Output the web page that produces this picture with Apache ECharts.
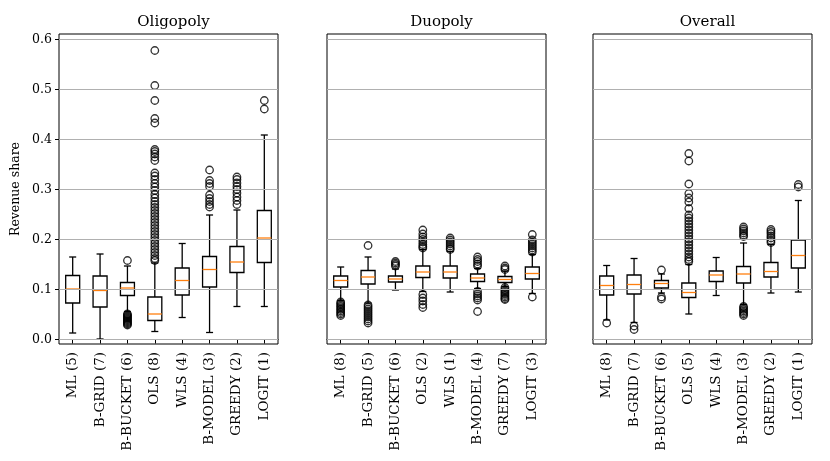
<!DOCTYPE html>
<html>
<head>
<meta charset="utf-8">
<script src="https://cdn.jsdelivr.net/npm/echarts@6/dist/echarts.min.js"></script>
<style>
html,body{margin:0;padding:0;background:#fff;}
#chart{width:830px;height:461px;}
</style>
</head>
<body>
<div id="chart"></div>
<script>
// ---------- data ----------
const panelTitles = ['Oligopoly', 'Duopoly', 'Overall'];
const yTicks = [0.0, 0.1, 0.2, 0.3, 0.4, 0.5, 0.6];

const oligLabels = ['ML (5)','B-GRID (7)','B-BUCKET (6)','OLS (8)','WLS (4)','B-MODEL (3)','GREEDY (2)','LOGIT (1)'];
const duoLabels  = ['ML (8)','B-GRID (5)','B-BUCKET (6)','OLS (2)','WLS (1)','B-MODEL (4)','GREEDY (7)','LOGIT (3)'];
const allLabels  = ['ML (8)','B-GRID (7)','B-BUCKET (6)','OLS (5)','WLS (4)','B-MODEL (3)','GREEDY (2)','LOGIT (1)'];

// [lower whisker, Q1, median, Q3, upper whisker]
const oligBoxes = [
  [0.013,0.073,0.101,0.128,0.165],
  [0.001,0.065,0.098,0.127,0.171],
  [0.056,0.088,0.103,0.114,0.147],
  [0.016,0.038,0.051,0.085,0.153],
  [0.044,0.089,0.118,0.143,0.192],
  [0.014,0.105,0.140,0.166,0.249],
  [0.066,0.134,0.155,0.186,0.259],
  [0.066,0.154,0.203,0.258,0.409]
];
const duoBoxes = [
  [0.078,0.105,0.118,0.127,0.145],
  [0.073,0.111,0.125,0.138,0.165],
  [0.099,0.115,0.121,0.127,0.141],
  [0.096,0.124,0.135,0.147,0.180],
  [0.095,0.123,0.135,0.147,0.176],
  [0.102,0.116,0.123,0.131,0.142],
  [0.106,0.114,0.120,0.126,0.137],
  [0.092,0.121,0.132,0.145,0.170]
];
const allBoxes = [
  [0.039,0.089,0.108,0.127,0.148],
  [0.034,0.091,0.110,0.129,0.162],
  [0.093,0.103,0.112,0.118,0.131],
  [0.051,0.084,0.094,0.113,0.150],
  [0.088,0.116,0.129,0.137,0.164],
  [0.070,0.113,0.131,0.146,0.193],
  [0.093,0.125,0.136,0.154,0.190],
  [0.095,0.143,0.168,0.199,0.278]
];

const oligOutliers = [
  [],
  [],
  [0.158,0.051,0.049,0.047,0.045,0.043,0.041,0.039,0.037,0.035,0.033,0.031,0.029],
  [0.578,0.508,0.478,0.442,0.433,0.380,0.376,0.371,0.365,0.358,0.333,0.327,0.320,0.312,0.305,0.298,0.290,0.283,0.276,0.270,0.264,0.258,0.252,0.246,0.240,0.234,0.228,0.222,0.216,0.210,0.204,0.198,0.192,0.186,0.180,0.174,0.168,0.162,0.158],
  [],
  [0.339,0.318,0.312,0.306,0.289,0.282,0.276,0.270,0.265],
  [0.325,0.320,0.313,0.306,0.300,0.293,0.285,0.278,0.270],
  [0.478,0.461]
];
const duoOutliers = [
  [0.075,0.072,0.069,0.066,0.063,0.060,0.057,0.054,0.051,0.048],
  [0.188,0.069,0.065,0.061,0.057,0.053,0.049,0.045,0.041,0.037,0.033],
  [0.156,0.153,0.150,0.147],
  [0.219,0.211,0.205,0.200,0.195,0.190,0.186,0.183,0.090,0.083,0.077,0.070,0.064],
  [0.203,0.199,0.195,0.191,0.187,0.183,0.180],
  [0.165,0.160,0.156,0.151,0.147,0.096,0.091,0.087,0.083,0.079,0.056],
  [0.147,0.143,0.140,0.104,0.100,0.097,0.094,0.091,0.088,0.085,0.082,0.080],
  [0.210,0.199,0.195,0.191,0.187,0.183,0.179,0.175,0.085]
];
const allOutliers = [
  [0.033],
  [0.027,0.020],
  [0.139,0.085,0.081],
  [0.372,0.357,0.311,0.292,0.283,0.275,0.262,0.249,0.243,0.237,0.231,0.225,0.219,0.213,0.207,0.201,0.195,0.189,0.183,0.177,0.171,0.165,0.160,0.156],
  [],
  [0.225,0.221,0.217,0.213,0.209,0.206,0.066,0.063,0.060,0.057,0.054,0.051,0.048],
  [0.220,0.216,0.212,0.207,0.203,0.198,0.194],
  [0.310,0.305]
];

// ---------- chart ----------
const panels = [
  {labels: oligLabels, boxes: oligBoxes, outliers: oligOutliers},
  {labels: duoLabels,  boxes: duoBoxes,  outliers: duoOutliers},
  {labels: allLabels,  boxes: allBoxes,  outliers: allOutliers}
];
const FONT = 'DejaVu Serif';
const gridLefts = [59, 327, 593];
const gridW = 219, gridTop = 34, gridH = 310;
const LW = 1.3;

function renderBox(params, api) {
  const i = api.value(0);
  const x = api.coord([i, api.value(3)])[0];
  const y = v => api.coord([i, v])[1];
  const yMin = y(api.value(1)), yQ1 = y(api.value(2)), yMed = y(api.value(3)),
        yQ3 = y(api.value(4)), yMax = y(api.value(5));
  const hb = 7, hc = 3.5;
  const st = {stroke: '#000', lineWidth: LW, fill: null};
  return {
    type: 'group',
    children: [
      {type: 'line', shape: {x1: x, y1: yQ1, x2: x, y2: yMin}, style: st},
      {type: 'line', shape: {x1: x, y1: yQ3, x2: x, y2: yMax}, style: st},
      {type: 'line', shape: {x1: x - hc, y1: yMin, x2: x + hc, y2: yMin}, style: st},
      {type: 'line', shape: {x1: x - hc, y1: yMax, x2: x + hc, y2: yMax}, style: st},
      {type: 'rect', shape: {x: x - hb, y: yQ3, width: 2 * hb, height: yQ1 - yQ3}, style: {stroke: '#000', lineWidth: LW, fill: 'none'}},
      {type: 'line', shape: {x1: x - hb, y1: yMed, x2: x + hb, y2: yMed}, style: {stroke: '#ff7f0e', lineWidth: LW}}
    ]
  };
}

const option = {
  backgroundColor: '#fff',
  animation: false,
  title: panelTitles.map((t, k) => ({
    text: t,
    left: gridLefts[k] + gridW / 2,
    top: 10,
    textAlign: 'center',
    textStyle: {fontFamily: FONT, fontSize: 15, fontWeight: 'normal', color: '#000'}
  })),
  grid: gridLefts.map(l => ({
    left: l, top: gridTop, width: gridW, height: gridH,
    show: true, borderColor: '#000', borderWidth: 1, backgroundColor: 'transparent'
  })),
  xAxis: panels.map((p, k) => ({
    type: 'category',
    gridIndex: k,
    data: p.labels,
    boundaryGap: true,
    axisLine: {show: true, lineStyle: {color: '#000', width: 1}},
    axisTick: {show: true, alignWithLabel: true, length: 4, lineStyle: {color: '#000', width: 1}},
    axisLabel: {rotate: 90, interval: 0, margin: 8, fontFamily: FONT, fontSize: 13.5, color: '#000'},
    splitLine: {show: false}
  })),
  yAxis: panels.map((p, k) => ({
    type: 'value',
    gridIndex: k,
    min: -0.009,
    max: 0.611,
    name: k === 0 ? 'Revenue share' : '',
    nameLocation: 'middle',
    nameGap: 37,
    nameTextStyle: {fontFamily: FONT, fontSize: 12.5, color: '#000'},
    axisLine: {show: false},
    axisTick: {show: k === 0, length: 4, customValues: yTicks, lineStyle: {color: '#000', width: 1}},
    axisLabel: {show: k === 0, customValues: yTicks, margin: 7, fontFamily: FONT, fontSize: 12.5, color: '#000',
                formatter: v => v.toFixed(1)},
    splitLine: {show: false}
  })),
  series: []
};

panels.forEach((p, k) => {
  option.series.push({
    type: 'custom',
    xAxisIndex: k, yAxisIndex: k,
    renderItem: renderBox,
    data: p.boxes.map((b, i) => [i, b[0], b[1], b[2], b[3], b[4]]),
    encode: {x: 0, y: [1, 2, 3, 4, 5]},
    z: 3,
    silent: true
  });
  const pts = [];
  p.outliers.forEach((arr, i) => arr.forEach(v => pts.push([i, v])));
  option.series.push({
    type: 'scatter',
    xAxisIndex: k, yAxisIndex: k,
    data: pts,
    symbol: 'circle',
    symbolSize: 7.5,
    itemStyle: {color: 'rgba(0,0,0,0)', borderColor: '#000', borderWidth: 1.3},
    z: 4,
    silent: true
  });
  // horizontal grid lines at the tick values
  option.series.push({
    type: 'line',
    xAxisIndex: k, yAxisIndex: k,
    data: [],
    markLine: {
      silent: true,
      symbol: 'none',
      label: {show: false},
      lineStyle: {color: '#b0b0b0', width: 1, type: 'solid'},
      data: yTicks.map(v => ({yAxis: v}))
    },
    z: 1
  });
});

const chart = echarts.init(document.getElementById('chart'));
chart.setOption(option);
</script>
</body>
</html>
